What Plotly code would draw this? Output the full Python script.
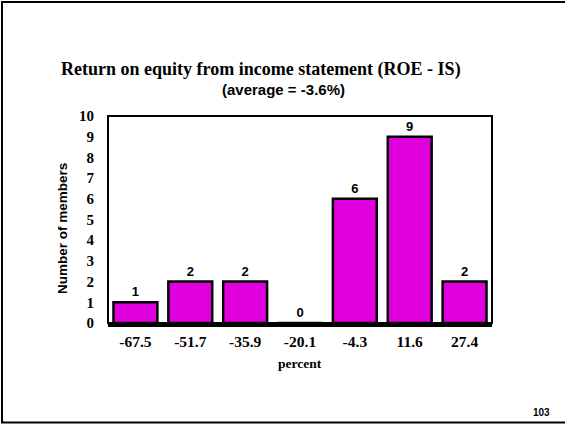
import plotly.graph_objects as go

categories = ["-67.5", "-51.7", "-35.9", "-20.1", "-4.3", "11.6", "27.4"]
members = [1, 2, 2, 0, 6, 9, 2]
y_ticks = list(range(0, 11))

W, H = 565, 424
L, R, T, B = 108, 492, 116, 323


def px(x):
    return (x - L) / (R - L)


def py(y):
    return (B - y) / (B - T)


SERIF = "Liberation Serif"
SANS = "Liberation Sans"

fig = go.Figure()
fig.add_trace(go.Bar(
    x=categories,
    y=members,
    marker=dict(color="#E000DE", line=dict(color="black", width=2.5)),
    text=[str(v) for v in members],
    textposition="outside",
    textfont=dict(family=SANS, size=13, color="black", weight="bold"),
    cliponaxis=False,
    hoverinfo="skip",
))

fig.update_layout(
    width=W, height=H,
    margin=dict(l=L, r=W - R, t=T, b=H - B, pad=0),
    paper_bgcolor="white",
    plot_bgcolor="white",
    showlegend=False,
    bargap=0.2,
    font=dict(family=SERIF, color="black"),
    xaxis=dict(
        showline=True, linecolor="black", linewidth=4,
        showgrid=False, ticks="", zeroline=False,
        tickfont=dict(family=SERIF, size=15.5, color="black", weight="bold"),
        ticklabelstandoff=1,
    ),
    yaxis=dict(
        range=[0, 10], tickvals=y_ticks, ticktext=[str(v) for v in y_ticks],
        showline=False, showgrid=False, ticks="", zeroline=False,
        tickfont=dict(family=SERIF, size=15, color="black", weight="bold"),
        ticklabelstandoff=13,
    ),
    shapes=[
        dict(type="rect", xref="paper", yref="paper", x0=0, x1=1, y0=0, y1=1,
             line=dict(color="black", width=2), layer="above"),
        dict(type="rect", xref="paper", yref="paper",
             x0=px(2), x1=px(620), y0=py(422.5), y1=py(2),
             line=dict(color="black", width=2)),
    ],
    annotations=[
        dict(text="<b>Return on equity from income statement (ROE - IS)</b>",
             xref="paper", yref="paper", x=px(260.5), y=py(70),
             xanchor="center", yanchor="middle", showarrow=False,
             font=dict(family=SERIF, size=18, color="black")),
        dict(text="<b>(average = -3.6%)</b>",
             xref="paper", yref="paper", x=px(283), y=py(89),
             xanchor="center", yanchor="middle", showarrow=False,
             font=dict(family=SANS, size=15, color="black")),
        dict(text="<b>Number of members</b>",
             xref="paper", yref="paper", x=px(62), y=py(229),
             xanchor="center", yanchor="middle", showarrow=False, textangle=-90,
             font=dict(family=SANS, size=13.5, color="black")),
        dict(text="<b>percent</b>",
             xref="paper", yref="paper", x=px(300), y=py(363),
             xanchor="center", yanchor="middle", showarrow=False,
             font=dict(family=SERIF, size=13.5, color="black")),
        dict(text="<b>103</b>",
             xref="paper", yref="paper", x=px(541), y=py(412),
             xanchor="center", yanchor="middle", showarrow=False,
             font=dict(family=SANS, size=10, color="black")),
    ],
)

fig.write_html(
    "out.html",
    config={"displayModeBar": False},
    post_script="document.body.style.margin='0';document.body.style.padding='0';",
)
